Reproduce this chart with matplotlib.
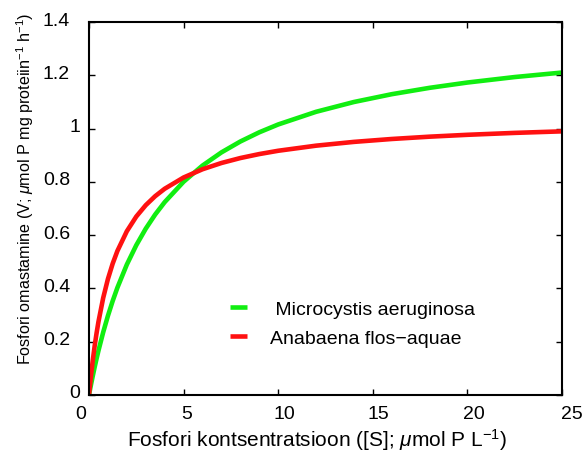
import matplotlib
matplotlib.use("Agg")
import matplotlib.pyplot as plt
from matplotlib.transforms import ScaledTranslation

# Data
S = [0, 0.05, 0.1, 0.2, 0.3, 0.4, 0.5, 0.75, 1, 1.25, 1.5, 2, 2.5, 3, 3.5, 4,
     5, 6, 7, 8, 9, 10, 12, 14, 16, 18, 20, 22.5, 25]
V_microcystis = [0, 0.0187, 0.0368, 0.0717, 0.1049, 0.1364, 0.1664, 0.2355,
                 0.2972, 0.3526, 0.4027, 0.4896, 0.5624, 0.6243, 0.6776, 0.7239,
                 0.8005, 0.8612, 0.9106, 0.9515, 0.9860, 1.0154, 1.0629, 1.0997,
                 1.1290, 1.1529, 1.1728, 1.1934, 1.2103]
V_anabaena = [0, 0.0360, 0.0697, 0.1306, 0.1844, 0.2322, 0.2750, 0.3645,
              0.4354, 0.4929, 0.5405, 0.6147, 0.6699, 0.7125, 0.7464, 0.7741,
              0.8164, 0.8473, 0.8708, 0.8894, 0.9043, 0.9167, 0.9358, 0.9500,
              0.9609, 0.9696, 0.9766, 0.9838, 0.9896]
series_labels = [" Microcystis aeruginosa", "Anabaena flos\u2212aquae"]
x_ticks = [0, 5, 10, 15, 20, 25]
x_ticklabels = ["0", "5", "10", "15", "20", "25"]
y_ticks = [0, 0.2, 0.4, 0.6, 0.8, 1.0, 1.2, 1.4]
y_ticklabels = ["0", "0.2", "0.4", "0.6", "0.8", "1", "1.2", "1.4"]

plt.rcParams['font.family'] = ['Liberation Sans', 'DejaVu Sans']
plt.rcParams['mathtext.fontset'] = 'custom'
plt.rcParams['mathtext.rm'] = 'Liberation Sans'
plt.rcParams['mathtext.it'] = 'Liberation Sans:italic'

fig = plt.figure(figsize=(5.83, 4.52), dpi=100)
ax = fig.add_axes([89/583, 56/452, (562-89)/583, (396-23)/452])

ax.plot(S, V_microcystis, color='#11ee11', lw=3.3, label=series_labels[0],
        solid_capstyle='butt')
ax.plot(S, V_anabaena, color='#ff1111', lw=3.3, label=series_labels[1],
        solid_capstyle='butt')

ax.set_xlim(0, 25)
ax.set_ylim(0, 1.4)
ax.set_xticks(x_ticks)
ax.set_yticks(y_ticks)
ax.tick_params(direction='in', length=4, width=1, top=True, right=True,
               labelbottom=False, labelleft=False)
for sp in ax.spines.values():
    sp.set_linewidth(1.5)


def px_off(dx, dy):
    return ScaledTranslation(dx / 100.0, dy / 100.0, fig.dpi_scale_trans)


# tick labels placed at the tick positions, with the reference's small offsets
for xv, lab in zip(x_ticks, x_ticklabels):
    if lab == '0':
        dx = -8
    elif lab == '25':
        dx = 10
    elif lab == '5':
        dx = 3
    else:
        dx = 6
    ax.text(xv, 0, lab, fontsize=14, ha='center', va='top',
            transform=ax.get_xaxis_transform() + px_off(dx, -10))
for yv, lab in zip(y_ticks, y_ticklabels):
    dx = -19 if '.' in lab else -9
    ax.text(0, yv, lab, fontsize=14, ha='right', va='center',
            transform=ax.get_yaxis_transform() + px_off(dx, 2))

ax.set_xlabel("Fosfori kontsentratsioon ([S]; $\\mathit{\\mu}$mol P L$^{-1}$)",
              fontsize=15)
ax.set_ylabel("Fosfori omastamine (V; $\\mathit{\\mu}$mol P mg proteiin$^{-1}$ h$^{-1}$)",
              fontsize=11.6)
ax.xaxis.set_label_coords(0.4815, -0.083)
ax.yaxis.set_label_coords(-0.112, 0.556)

leg = ax.legend(loc='upper left', bbox_to_anchor=(0.262, 0.30), frameon=False,
                fontsize=14, handlelength=0.85, handletextpad=1.2,
                labelspacing=0.55)

fig.savefig("out.png", dpi=100)
